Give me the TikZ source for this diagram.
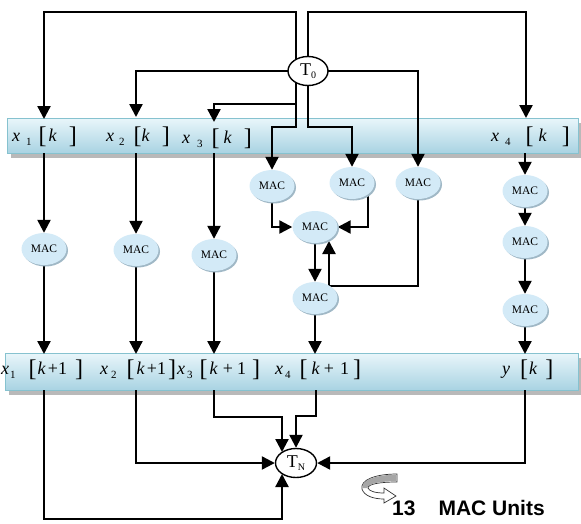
\documentclass[tikz,border=0pt]{standalone}
\usepackage{fontspec}
\setmainfont{Liberation Serif}
\newfontfamily\arialfont{Liberation Sans}
\usetikzlibrary{arrows.meta,shapes.geometric,shadows,calc}
\pgfdeclarelayer{barlayer}
\pgfdeclarelayer{linelayer}
\pgfsetlayers{barlayer,linelayer,main}
\definecolor{barfilltop}{HTML}{E8F5FA}
\definecolor{barfillbot}{HTML}{A8D3E2}
\definecolor{baredge}{HTML}{86C2CF}
\definecolor{macfill}{HTML}{D3EAF7}
\definecolor{macshadow}{HTML}{A0B8C6}
\newcommand{\sbs}[1]{\raisebox{-3.5pt}{\fontsize{11}{11}\selectfont #1}}
\newcommand{\bl}{\raisebox{-2pt}{\fontsize{24}{24}\selectfont [}}
\newcommand{\br}{\raisebox{-2pt}{\fontsize{24}{24}\selectfont ]}}
\newcommand{\hs}[1]{\hspace{#1pt}}
\tikzset{
  conn/.style={line width=2.3pt, draw=black},
  arr/.style={conn, -{Triangle[length=13pt,width=13pt]}},
  bar/.style={draw=baredge, line width=1pt, top color=barfilltop, bottom color=barfillbot,
    anchor=north west, inner sep=0pt,
    drop shadow={shadow xshift=3pt, shadow yshift=-4pt, fill=gray!55, opacity=1}},
  mac/.style={ellipse, fill=macfill, minimum width=45pt, minimum height=32pt, inner sep=0pt,
    font=\fontsize{11.5}{11.5}\selectfont,
    drop shadow={shadow xshift=1.5pt, shadow yshift=-1.5pt, fill=macshadow, opacity=1}},
  tnode/.style={ellipse, draw, line width=1.4pt, fill=white, minimum width=40pt,
    minimum height=29pt, inner sep=0pt, font=\fontsize{18}{18}\selectfont},
  lbl/.style={anchor=west, inner sep=0pt, font=\fontsize{18}{18}\selectfont}
}
\begin{document}
\begin{tikzpicture}[x=1pt,y=-1pt]
\useasboundingbox (0,0) rectangle (581,523);
% bars
\begin{pgfonlayer}{barlayer}
\node[bar, minimum width=571pt, minimum height=35pt] (topbar) at (7,118) {};
\node[bar, minimum width=573pt, minimum height=37pt] (botbar) at (5,353) {};
\end{pgfonlayer}
% bar labels
\node[lbl] (tx1) at (12,137) {\textit{x}\hs{6}\sbs{1}\hs{7}\bl\hs{2}\textit{k}\hs{12}\br};
\node[lbl] (tx2) at (106,137) {\textit{x}\hs{5}\sbs{2}\hs{9}\bl\textit{k}\hs{12}\br};
\node[lbl] (tx3) at (182,139) {\textit{x}\hs{7}\sbs{3}\hs{9}\bl\hs{4}\textit{k}\hs{12}\br};
\node[lbl] (tx4) at (491,137) {\textit{x}\hs{6}\sbs{4}\hs{15}\bl\hs{5}\textit{k}\hs{15}\br};
\node[lbl] (bx1) at (1,370) {\textit{x}\hs{1}\sbs{1}\hs{13}\bl\hs{1}\textit{k}\hs{2}+1\hs{8}\br};
\node[lbl] (bx2) at (100,370) {\textit{x}\hs{3}\sbs{2}\hs{10}\bl\hs{2}\textit{k}\hs{2}+1\hs{2}\br};
\node[lbl] (bx3) at (177,370) {\textit{x}\hs{2}\sbs{3}\hs{7}\bl\hs{2}\textit{k}\hs{5}+\hs{4}1\hs{6}\br};
\node[lbl] (bx4) at (275,370) {\textit{x}\hs{2}\sbs{4}\hs{9}\bl\hs{4}\textit{k}\hs{4}+\hs{6}1\hs{4}\br};
\node[lbl] (by) at (502,370) {\textit{y}\hs{10}\bl\hs{1}\textit{k}\hs{8}\br};
% T nodes
\node[tnode] (T0) at (308,71) {T\raisebox{-3.5pt}{\fontsize{10}{10}\selectfont 0}};
\node[tnode, minimum width=41pt] (TN) at (296,463) {T\raisebox{-3.5pt}{\fontsize{10}{10}\selectfont N}};
% MAC nodes
\node[mac] (m1) at (272,186) {MAC};
\node[mac] (m2) at (352,183) {MAC};
\node[mac] (m3) at (418,183) {MAC};
\node[mac] (mc) at (315,227) {MAC};
\node[mac] (mb) at (315,298) {MAC};
\node[mac] (l1) at (44,249) {MAC};
\node[mac] (l2) at (136,250) {MAC};
\node[mac] (l3) at (214,255) {MAC};
\node[mac] (r1) at (525,191) {MAC};
\node[mac] (r2) at (525,242) {MAC};
\node[mac] (r3) at (525,310) {MAC};
% coordinates
\coordinate (in1) at (44,119);
\coordinate (in2) at (136,117);
\coordinate (in3) at (214,122);
\coordinate (in4) at (526,118);
\coordinate (topL) at (44,12);
\coordinate (topR) at (526,12);
\coordinate (j3) at (296,104);
\coordinate (j4) at (296,127);
\coordinate (j5) at (308,127);
\coordinate (out1) at (44,153);
\coordinate (out2) at (136,153);
\coordinate (out3) at (214,153);
\coordinate (out4) at (525,153);
\coordinate (bin1) at (44,354);
\coordinate (bin2) at (136,354);
\coordinate (bin3) at (214,354);
\coordinate (bin4) at (315,354);
\coordinate (bin5) at (525,354);
\coordinate (j6) at (418,286);
\coordinate (mc3in) at (329,241);
\coordinate (bout1) at (44,390);
\coordinate (bout2) at (136,390);
\coordinate (bout3) at (214,390);
\coordinate (bout4) at (316,390);
\coordinate (bout5) at (525,390);
\coordinate (j7) at (282,519);
\coordinate (j8) at (282,417);
\coordinate (j9) at (296,416);
\coordinate (tn1) at (282,474);
\coordinate (tn2) at (282,452);
% connectors
\begin{pgfonlayer}{linelayer}
\draw[arr] ([xshift=-12pt]T0.center) |- (topL) -- (in1);
\draw[arr] (T0.center) |- (topR) -- (in4);
\draw[arr] (T0.center) -| (in2);
\draw[arr] (T0.center) -| (m3);
\draw[arr] ([xshift=-12pt]T0.center) -- (j3) -| (in3);
\draw[arr] ([xshift=-12pt]T0.center) -- (j4) -| (m1);
\draw[arr] (T0.center) -- (j5) -| (m2);
\draw[arr] (out1) -- (l1);
\draw[arr] (out2) -- (l2);
\draw[arr] (out3) -- (l3);
\draw[arr] (out4) -- (r1);
\draw[arr] (l1) -- (bin1);
\draw[arr] (l2) -- (bin2);
\draw[arr] (l3) -- (bin3);
\draw[arr] (m1) |- (mc);
\draw[arr] ([xshift=16pt]m2.center) |- (mc);
\draw[arr] (m3) -- (j6) -| (mc3in);
\draw[arr] (mc) -- (mb);
\draw[arr] (mb) -- (bin4);
\draw[arr] (r1) -- (r2);
\draw[arr] (r2) -- (r3);
\draw[arr] (r3) -- (bin5);
\draw[arr] (bout1) |- (j7) -- (tn1);
\draw[arr] (bout2) |- (TN);
\draw[arr] (bout3) |- (j8) -- (tn2);
\draw[arr] (bout4) |- (j9) -| (TN);
\draw[arr] (bout5) |- (TN);
\end{pgfonlayer}
% curved arrow icon
\draw[fill=white, draw=black!80, line width=0.7pt]
  (397,474) .. controls (375,474) and (360,480) .. (362,489)
  .. controls (364,496) and (374,499) .. (384,499) -- (384,503) -- (396,496) -- (384,488)
  -- (384,493) .. controls (375,493) and (369,491) .. (368,488)
  .. controls (368,484) and (380,482) .. (397,482) -- cycle;
\fill[gray!70] (396.4,474.7) .. controls (375,474.7) and (361,480.5) .. (362.7,488)
  -- (367.3,488) .. controls (367.5,483.5) and (380,481.3) .. (396.4,481.3) -- cycle;
\node[anchor=west, inner sep=0pt, font=\arialfont\bfseries\fontsize{21}{21}\selectfont] (units) at (392,508) {13\hspace{23pt}MAC Units};
\end{tikzpicture}
\end{document}
